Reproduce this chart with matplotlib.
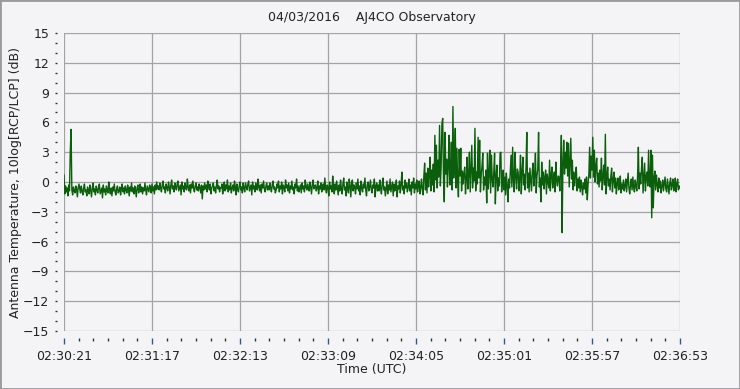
## AJ4CO observatory - RCP/LCP ratio plot
# two samples per second starting 02:30:21 UTC
import numpy as np
import matplotlib.pyplot as plt
from matplotlib.patches import Rectangle

## Data (dB), one row = 5 s
ratio_db = [
    0.7, -1.2, -0.4, -1.0, -0.6, -1.4, -0.3, -0.9, 3.1, 5.3,
    -0.8, -1.3, -0.5, -0.9, -1.1, -0.4, -0.7, -1.5, -0.6, -0.2,
    -0.7, -1.1, -0.4, -0.9, -1.3, -0.6, -0.2, -1.0, -0.8, -1.4,
    -0.5, -0.9, -1.2, -0.3, -0.8, -1.5, -0.6, -0.1, -1.0, -0.7,
    -1.3, -0.4, -0.8, -1.1, -0.5, -0.2, -1.2, -0.9, -0.6, -1.6,
    -0.3, -1.0, -0.7, -1.3, -0.4, -0.9, -1.1, 0.0, -0.8, -1.2,
    -0.6, -1.4, -0.5, -0.9, -0.2, -1.0, -1.3, -0.7, -0.4, -1.1,
    -0.9, -0.5, -1.3, -0.7, -0.2, -1.0, -0.6, -1.2, -0.4, -0.8,
    -1.1, -0.3, -0.7, -1.4, -0.5, -0.9, -0.1, -1.0, -0.6, -1.2,
    -0.4, -0.8, -1.5, -0.6, -0.3, -1.1, -0.7, -0.2, -1.0, -0.5,
    -1.2, -0.6, -0.9, -0.1, -0.8, -1.3, -0.4, -0.7, -1.0, -0.3,
    -0.6, -1.1, -0.2, -0.9, -0.5, -1.2, -0.3, -0.8, 0.0, -0.7,
    -0.4, -0.8, -0.1, -0.6, -1.0, -0.3, 0.1, -0.7, -0.5, -1.1,
    -0.2, -0.6, -0.9, 0.0, -0.5, -1.2, -0.3, 0.2, -0.7, -0.4,
    -1.0, -0.1, -0.5, -0.8, -0.2, 0.1, -0.9, -0.6, -0.3, -1.3,
    0.0, -0.7, -0.4, -1.0, -0.1, -0.6, -0.8, 0.3, -0.5, -0.9,
    -0.3, -1.1, -0.2, -0.6, 0.1, -0.7, -1.0, -0.4, -0.1, -0.8,
    -0.5, -0.9, -0.2, -0.6, -1.1, -0.3, -1.7, -0.4, -0.8, -0.1,
    -0.7, -0.3, -1.0, 0.1, -0.5, -0.8, -0.2, -1.2, -0.6, -0.4,
    -0.1, -0.9, -0.5, -1.1, -0.3, 0.2, -0.7, -0.4, -1.0, -0.6,
    -0.6, -0.2, -1.2, -0.5, 0.0, -0.9, -0.3, -0.7, 0.2, -1.0,
    -0.4, -0.8, -0.1, -1.1, -0.6, -0.3, -0.9, 0.1, -0.5, -1.3,
    -0.2, -0.7, -1.0, -0.4, 0.0, -0.8, -0.5, -1.1, -0.1, -0.6,
    -1.0, -0.1, -0.5, -0.8, -0.2, 0.1, -0.9, -0.6, -0.3, -1.3,
    0.0, -0.7, -0.4, -1.0, -0.1, -0.6, -0.8, 0.3, -0.5, -0.9,
    -0.3, -1.1, -0.2, -0.6, 0.1, -0.7, -1.0, -0.4, -0.1, -0.8,
    -0.4, -0.8, -0.1, -0.6, -1.0, -0.3, 0.1, -0.7, -0.5, -1.1,
    -0.8, -0.2, -0.6, 0.1, -1.0, -0.4, -0.7, 0.0, -1.2, -0.3,
    -0.5, -1.0, 0.2, -0.6, -0.3, -0.9, -0.1, -1.1, -0.4, -0.7,
    0.1, -0.8, -0.5, -1.2, -0.2, -0.6, 0.3, -0.9, -0.4, -1.0,
    -0.6, -0.3, -1.1, -0.1, -0.7, -0.4, -1.0, 0.2, -0.5, -0.8,
    -0.2, -0.6, -0.9, 0.0, -0.5, -1.2, -0.3, 0.2, -0.7, -0.4,
    -0.3, -0.9, -0.6, 0.1, -1.2, -0.4, -0.7, -0.1, -1.0, -0.5,
    -0.2, -0.8, 0.4, -0.6, -1.1, -0.3, -0.5, -1.4, 0.0, -0.7,
    -0.4, -1.0, 0.6, -0.5, -1.2, -0.2, -0.8, 0.1, -0.6, -1.3,
    -0.3, -0.9, 0.2, -0.6, -1.2, -0.2, 0.4, -0.8, -0.5, -1.4,
    0.0, -0.6, -1.1, 0.3, -0.4, -1.5, -0.1, 0.2, -0.9, -0.3,
    -0.5, -1.2, -0.1, -0.7, 0.3, -0.9, -0.4, -1.3, 0.1, -0.6,
    -1.0, -0.2, -0.6, 0.4, -0.8, -1.4, -0.3, 0.0, -0.9, -0.5,
    0.2, -0.7, -1.1, -0.3, -0.6, 0.3, -1.5, -0.4, -0.1, -0.9,
    -0.3, -0.9, 0.2, -0.6, -1.2, -0.2, 0.4, -0.8, -0.5, -1.4,
    -0.6, 0.1, -1.2, -0.3, -0.8, 0.3, -1.0, -0.5, 0.0, -1.4,
    -0.2, -0.9, -0.5, 0.2, -1.5, -0.4, -0.7, 0.1, -1.1, -0.3,
    1.0, -0.8, -0.4, -1.2, 0.2, -0.6, -0.1, -1.0, -0.5, 0.3,
    -0.9, -0.3, -1.3, 0.0, -0.6, 0.4, -1.1, -0.2, -0.7, 0.2,
    -1.0, -0.4, 0.1, -1.2, -0.5, 0.3, -0.8, -1.3, 0.6, 1.9,
    -0.8, 0.9, -1.1, 1.4, -0.5, 0.6, 2.5, -0.9, 1.2, -0.3,
    1.8, -1.0, 4.7, 0.2, 3.7, -0.6, 2.2, 0.5, 5.7, -0.4,
    1.5, 5.9, 6.4, 0.3, -2.0, 5.0, 0.8, 2.3, -0.5, 1.6,
    4.7, -0.3, 1.2, 4.0, -0.8, 7.6, 0.4, 2.0, 5.4, -0.6,
    3.4, 0.2, -1.5, 3.3, 0.6, 3.4, -0.9, 1.1, -0.2, 0.9,
    1.5, -1.2, 0.3, 2.5, -0.7, 0.8, 3.0, -1.0, 1.2, 3.7,
    -0.6, 1.4, 0.1, 5.4, -0.9, 1.0, -0.2, 4.5, 0.4, 4.2,
    -1.0, 0.7, 1.6, 2.9, -0.8, 0.5, -0.3, 1.2, -2.1, 2.9,
    -0.7, 0.8, 3.2, -1.1, 2.7, 0.3, -0.5, 1.0, 2.9, -2.2,
    0.6, 1.7, -0.9, 0.4, -0.4, 2.9, 3.0, -1.0, 0.2, 1.2,
    -0.8, 0.5, -1.3, 0.9, -0.4, -2.0, 0.3, -0.6, 1.1, 2.7,
    -0.5, 3.5, 0.2, -1.0, 3.0, 0.6, -0.7, 1.3, 1.0, -0.9,
    0.4, 2.7, -1.2, 1.0, 2.5, -0.3, 0.8, -0.8, 1.5, 5.0,
    -0.6, 0.9, -1.0, 1.4, 0.2, -0.9, 1.1, 1.9, -0.4, 0.7,
    2.9, -1.1, 0.6, 1.3, 5.0, -0.5, 0.4, -2.0, 2.0, -0.3,
    1.0, -0.7, 0.5, 1.2, -1.2, 0.8, 0.1, -0.6, 2.2, -0.9,
    0.7, 1.5, -0.6, 0.3, 1.0, -1.0, 2.0, 0.2, -0.4, 0.6,
    0.5, -0.9, 1.2, 4.7, -5.1, 1.9, 4.2, 0.8, 3.0, 1.4,
    4.0, 0.6, 3.9, -0.5, 1.8, 4.4, 0.3, 2.2, -0.8, 1.0,
    -0.4, 0.9, 1.5, -0.9, 0.3, -0.6, 0.5, -1.0, 0.2, -0.5,
    -1.3, -0.1, -0.7, 0.3, -1.1, 0.5, -1.8, -0.2, 0.8, 3.5,
    0.4, 2.6, 1.2, 4.5, 0.5, 3.2, 0.0, 1.6, 2.4, -0.2,
    0.9, -0.5, 1.2, 0.1, 2.4, -0.8, 0.6, 1.7, -0.3, 4.8,
    -1.2, 0.5, 1.5, -0.4, 0.3, -0.8, 0.6, 1.4, -1.0, 0.2,
    1.0, -0.6, 0.4, -1.2, -0.1, 0.4, -0.8, -0.3, 0.6, -1.1,
    -0.2, -0.7, 0.2, -0.9, -0.4, 0.3, -1.0, 0.0, 0.9, -0.6,
    -1.2, -0.3, 0.3, -0.8, 0.5, -0.5, -1.0, 0.2, -0.4, -0.9,
    0.6, 3.5, -0.7, 0.9, -0.2, 1.4, 2.5, -1.1, 0.5, 1.9,
    -0.9, 0.6, 1.0, -0.4, 3.2, 0.2, -0.5, 3.2, -3.6, 2.7,
    -2.6, 0.4, 1.1, -0.8, 0.7, -0.3, -1.0, 0.4, -0.6, 0.1,
    -1.1, -0.4, 0.2, -0.9, -0.2, 0.5, -0.7, -1.0, 0.3, -0.5,
    -1.2, -0.1, 0.4, -0.8, -0.3, 0.3, -0.9, -0.5, 0.4, -1.0,
    -0.2, 0.3, -0.8, -0.4, -0.6,
]
sample_dt = 0.5  # s
# x tick positions (seconds after start) and their labels
tick_sec = [0, 56, 112, 168, 224, 280, 336, 392]
tick_labels = ["02:30:21", "02:31:17", "02:32:13", "02:33:09",
               "02:34:05", "02:35:01", "02:35:57", "02:36:53"]
y_ticks = [15, 12, 9, 6, 3, 0, -3, -6, -9, -12, -15]

t = np.arange(len(ratio_db)) * sample_dt

## Figure
bg = '#f4f4f6'
grid_c = '#a3a3a3'
fig = plt.figure(figsize=(7.40, 3.89), dpi=100, facecolor=bg)
ax = fig.add_axes([64/740, 58/389, 616/740, 298/389], facecolor=bg)

ax.plot(t, ratio_db, color='#0b5e0b', lw=1.0)

ax.set_xlim(0, 392)
ax.set_ylim(-15, 15)
ax.set_xticks(tick_sec)
ax.set_xticklabels(tick_labels)
ax.set_xticks(np.arange(0, 393, 56/6), minor=True)
ax.set_yticks(y_ticks)
ax.set_yticks(np.arange(-15, 16, 1), minor=True)
ax.grid(True, which='major', color=grid_c, lw=0.9)

# ticks sit a few pixels off the plot area, no spine lines
for s in ['top', 'right']:
    ax.spines[s].set_visible(False)
for s in ['left', 'bottom']:
    ax.spines[s].set_position(('outward', 5))
    ax.spines[s].set_color('none')
ax.tick_params(axis='x', which='major', length=4, width=1, color='#2c5a9a',
               labelsize=9, pad=5, labelcolor='#222222')
ax.tick_params(axis='x', which='minor', length=2, width=1, color='#333333')
ax.tick_params(axis='y', which='both', length=1.5, width=1, color='#333333',
               labelsize=9, pad=4, labelcolor='#222222')

ax.set_xlabel("Time (UTC)", fontsize=9, color='#222222', labelpad=0)
ax.set_ylabel("Antenna Temperature, 10log[RCP/LCP] (dB)", fontsize=9,
              color='#222222', labelpad=1)
fig.text(372/740, 1 - 18/389, "04/03/2016    AJ4CO Observatory", fontsize=9,
         color='#222222', ha='center', va='center')

# window frame
fig.patches.append(Rectangle((0, 0), 1, 1, transform=fig.transFigure,
                             fill=False, edgecolor='#9a9a9a', lw=2))

fig.savefig('out.png', dpi=100, facecolor=bg)
